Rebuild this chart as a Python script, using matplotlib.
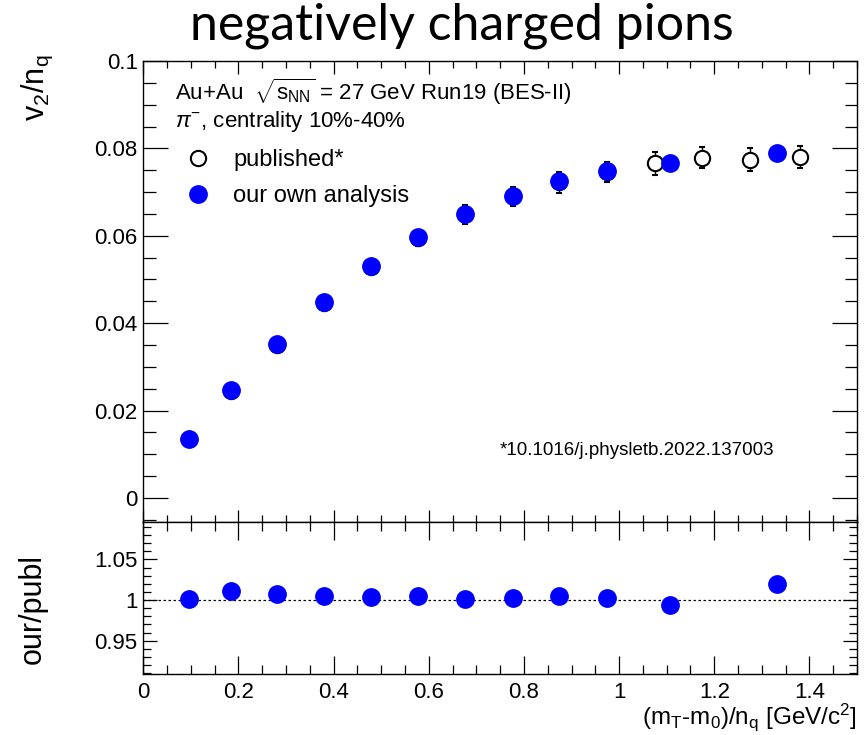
import matplotlib
matplotlib.use("Agg")
import matplotlib.pyplot as plt
from matplotlib.lines import Line2D
from matplotlib.ticker import MultipleLocator

plt.rcParams['font.family'] = ['Liberation Sans', 'DejaVu Sans']
plt.rcParams['mathtext.fontset'] = 'custom'
plt.rcParams['mathtext.rm'] = 'Liberation Sans'
plt.rcParams['mathtext.it'] = 'Liberation Sans:italic'
plt.rcParams['mathtext.sf'] = 'Liberation Sans'

# our own analysis
x_our = [0.096, 0.184, 0.280, 0.379, 0.478, 0.577, 0.676, 0.777, 0.874, 0.974, 1.108, 1.331]
v2_our = [0.0135, 0.0246, 0.0352, 0.0448, 0.0530, 0.0598, 0.0650, 0.0691, 0.0725, 0.0748, 0.0766, 0.0789]
ratio = [1.001, 1.011, 1.007, 1.0045, 1.004, 1.0045, 1.001, 1.002, 1.0045, 1.002, 0.994, 1.020]

# published
x_pub = [0.096, 0.184, 0.280, 0.379, 0.478, 0.577, 0.676, 0.777, 0.874, 0.974, 1.075, 1.175, 1.275, 1.380]
v2_pub = [0.0135, 0.0244, 0.0350, 0.0446, 0.0528, 0.0595, 0.0649, 0.0690, 0.0722, 0.0746, 0.0766, 0.0779, 0.0774, 0.0781]
err_pub = [0.0005, 0.0006, 0.0008, 0.0010, 0.0013, 0.0019, 0.0021, 0.0022, 0.0023, 0.0024, 0.0026, 0.0024, 0.0026, 0.0025]

W, H = 865, 735
fig = plt.figure(figsize=(W / 100, H / 100), dpi=100)

left = 143.3 / W
right = 857 / W
ax1 = fig.add_axes([left, 1 - 522 / H, right - left, (522 - 61) / H])
ax2 = fig.add_axes([left, 1 - 674 / H, right - left, (674 - 522) / H])

blue = '#0000ff'

ax1.errorbar(x_pub, v2_pub, yerr=err_pub, fmt='o', ms=11, mfc='white', mec='black',
             mew=1.5, ecolor='black', elinewidth=1.0, capsize=2.5, capthick=1.0, zorder=2)
ax1.plot(x_our, v2_our, 'o', ms=12.5, color=blue, zorder=3)

ax2.axhline(1.0, color='black', lw=0.9, ls=(0, (2, 2)), zorder=1)
ax2.plot(x_our, ratio, 'o', ms=12.5, color=blue, zorder=3)

ax1.set_xlim(0, 1.5)
ax1.set_ylim(-0.0055, 0.1)
ax2.set_xlim(0, 1.5)
ax2.set_ylim(0.909, 1.096)

ax1.xaxis.set_major_locator(MultipleLocator(0.2))
ax1.xaxis.set_minor_locator(MultipleLocator(0.05))
ax1.yaxis.set_minor_locator(MultipleLocator(0.005))
ax2.xaxis.set_minor_locator(MultipleLocator(0.05))
ax2.yaxis.set_minor_locator(MultipleLocator(0.01))

ax1.set_yticks([0, 0.02, 0.04, 0.06, 0.08, 0.1])
ax1.set_yticklabels(['0', '0.02', '0.04', '0.06', '0.08', '0.1'])
ax1.tick_params(axis='x', labelbottom=False)
ax2.set_yticks([0.95, 1.0, 1.05])
ax2.set_yticklabels(['0.95', '1', '1.05'])
ax2.set_xticks([0, 0.2, 0.4, 0.6, 0.8, 1.0, 1.2, 1.4])
ax2.set_xticklabels(['0', '0.2', '0.4', '0.6', '0.8', '1', '1.2', '1.4'])

for ax in (ax1, ax2):
    ax.tick_params(which='both', direction='in', top=True, right=True,
                   labelsize=16, width=0.9, colors='black', pad=4)
    for s in ax.spines.values():
        s.set_linewidth(1.0)
ax1.tick_params(axis='y', which='major', length=18)
ax1.tick_params(axis='y', which='minor', length=9)
ax1.tick_params(axis='x', which='major', length=9)
ax1.tick_params(axis='x', which='minor', length=5)
ax2.tick_params(axis='y', which='major', length=10)
ax2.tick_params(axis='y', which='minor', length=6)
ax2.tick_params(axis='x', which='major', length=13)
ax2.tick_params(axis='x', which='minor', length=6.5)
ax2.tick_params(axis='x', pad=6)

ax1.text(0.044, 0.933, r'Au+Au  $\sqrt{\mathrm{s}_{\mathrm{NN}}}$ = 27 GeV Run19 (BES-II)',
         transform=ax1.transAxes, fontsize=16, va='center', ha='left')
ax1.text(0.044, 0.868, r'$\pi^{\mathrm{-}}$, centrality 10%-40%',
         transform=ax1.transAxes, fontsize=16, va='center', ha='left')
ax1.text(0.50, 0.156, '*10.1016/j.physletb.2022.137003',
         transform=ax1.transAxes, fontsize=13.5, va='center', ha='left')

handles = [Line2D([], [], ls='none', marker='o', ms=11, mfc='white', mec='black', mew=1.5),
           Line2D([], [], ls='none', marker='o', ms=12.5, color=blue)]
ax1.legend(handles, ['published*', 'our own analysis'], loc='upper left',
           bbox_to_anchor=(0.04, 0.835), frameon=False, fontsize=17,
           handlelength=1.2, handletextpad=0.9, labelspacing=0.6, borderpad=0)

fig.text(462 / W, 1 - 26 / H, 'negatively charged pions', family='Lato', fontsize=36,
         ha='center', va='center')
fig.text(37 / W, 1 - 88 / H, r'v$_{\mathrm{2}}$/n$_{\mathrm{q}}$', rotation=90,
         fontsize=22, ha='center', va='center')
fig.text(33 / W, 1 - 609 / H, 'our/publ', rotation=90, fontsize=22,
         ha='center', va='center')
fig.text(857 / W, 1 - 717 / H, r'(m$_{\mathrm{T}}$-m$_{\mathrm{0}}$)/n$_{\mathrm{q}}$ [GeV/c$^{\mathrm{2}}$]',
         fontsize=17.5, ha='right', va='center')

fig.savefig('out.png', dpi=100)
